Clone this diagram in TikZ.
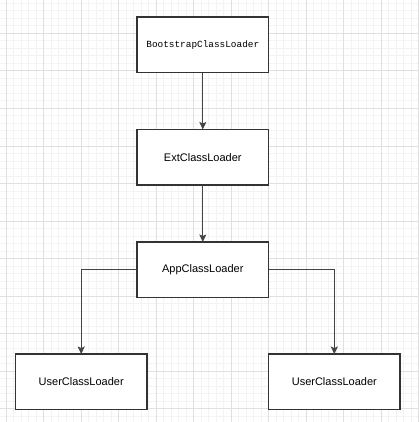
\documentclass[tikz,border=0pt]{standalone}
\usepackage{fontspec}
\setmainfont{Liberation Sans}
\newfontfamily\monof{Liberation Mono}
\usetikzlibrary{arrows.meta}
\definecolor{gmajor}{HTML}{E0E0E0}
\definecolor{gminor}{HTML}{F3F3F3}
\definecolor{boxline}{HTML}{333333}
\definecolor{arrline}{HTML}{444444}
\tikzset{
  box/.style={draw=boxline, line width=1.3pt, fill=white, minimum width=131.5pt, minimum height=55.5pt, inner sep=0pt, outer sep=0pt, font=\fontsize{11pt}{13pt}\selectfont},
  arr/.style={draw=arrline, line width=1pt, -{Stealth[length=7.5pt,width=7pt,inset=1.5pt]}},
  minorg/.style={draw=gminor, line width=1pt},
  majorg/.style={draw=gmajor, line width=1pt}
}
\begin{document}
\begin{tikzpicture}[x=1pt,y=-1pt]
\useasboundingbox (0,0) rectangle (418,422);
\fill[white] (0,0) rectangle (418,422);
\foreach \i in {0,...,56} {\draw[minorg] ({-1.5+7.5*\i},0) -- ++(0,422);}
\foreach \i in {0,...,57} {\draw[minorg] (0,{3.5+7.5*\i}) -- ++(418,0);}
\foreach \i in {0,...,11} {\draw[majorg] ({6+37.5*\i},0) -- ++(0,422);}
\foreach \i in {0,...,12} {\draw[majorg] (0,{-4+37.5*\i}) -- ++(418,0);}
\node[box, font=\monof\fontsize{9.4pt}{11pt}\selectfont] (boot) at (202.8,44.8) {BootstrapClassLoader};
\node[box] (ext) at (202.8,157.2) {ExtClassLoader};
\node[box] (app) at (202.8,269.7) {AppClassLoader};
\node[box] (u1) at (81.2,381.8) {UserClassLoader};
\node[box] (u2) at (334.3,381.8) {UserClassLoader};
\draw[arr] (boot) -- (ext);
\draw[arr] (ext) -- (app);
\draw[arr] (app.west) -| (u1.north);
\draw[arr] (app.east) -| (u2.north);
\end{tikzpicture}
\end{document}
